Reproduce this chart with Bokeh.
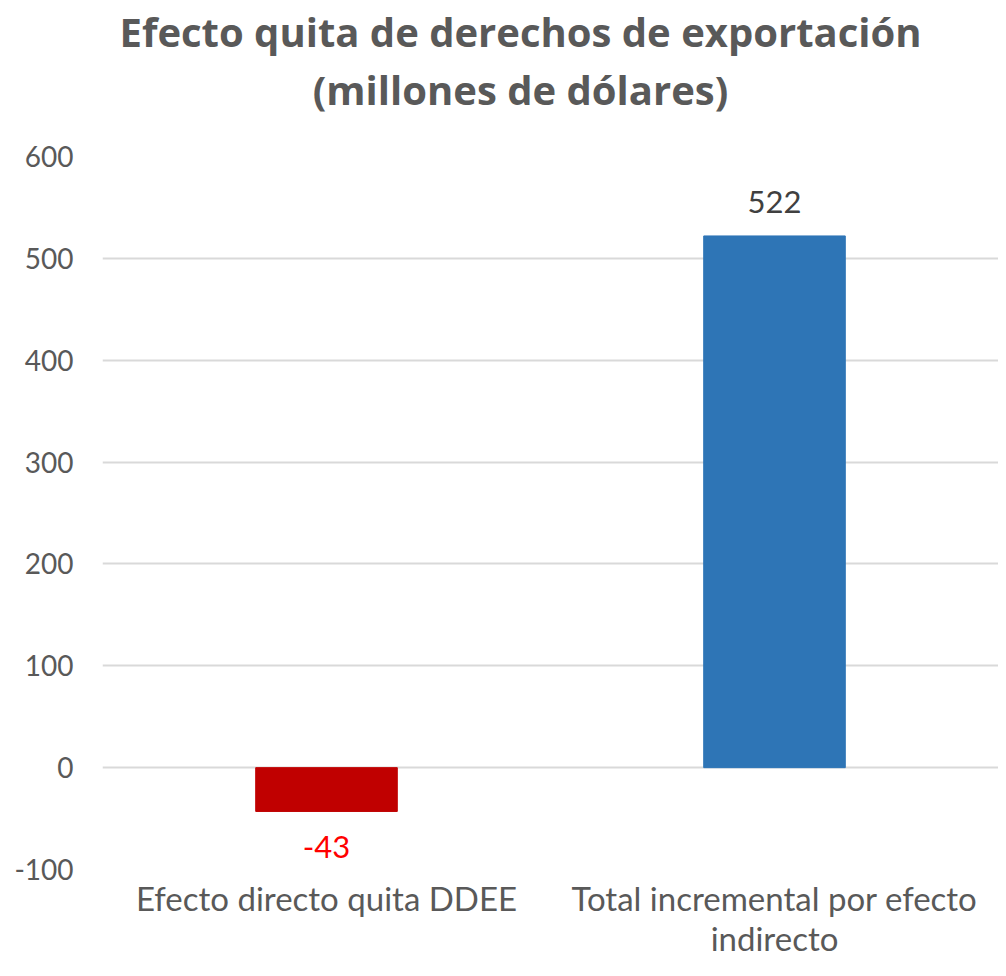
from bokeh.plotting import figure
from bokeh.layouts import column
from bokeh.models import ColumnDataSource, Range1d, FixedTicker, FactorRange
from bokeh.core.properties import value
from bokeh.embed import file_html
from bokeh.resources import INLINE

categories = ["Efecto directo quita DDEE", "Total incremental por efecto\nindirecto"]
values = [-43, 522]
bar_colors = ["#c00000", "#2e75b6"]
label_colors = ["#ff0000", "#404040"]
y_ticks = [-100, 0, 100, 200, 300, 400, 500, 600]
title_lines = ["Efecto quita de derechos de exportación", "(millones de dólares)"]

FONT = "Lato"
TFONT = "Open Sans"
W = 998
TH = 140
LEFT = 102

# title strip (its frame is aligned with the main plot's frame by the column layout)
t = figure(width=W, height=TH, x_range=Range1d(LEFT, W), y_range=Range1d(0, TH),
           x_axis_location=None, y_axis_location=None,
           min_border=0, output_backend="svg", toolbar_location=None)
t.grid.grid_line_color = None
t.outline_line_color = None
t.text(x=[520, 520], y=[TH - 31, TH - 89], text=title_lines, text_font=value(TFONT),
       text_font_size="40px", text_font_style="bold", text_color="#595959",
       text_align="center", text_baseline="middle")

p = figure(
    width=W, height=960 - TH,
    x_range=FactorRange(*categories, range_padding=0),
    y_range=Range1d(-100, 600),
    output_backend="svg", toolbar_location=None,
    min_border_left=LEFT, min_border_right=0, min_border_bottom=90, min_border_top=16,
)

src = ColumnDataSource(dict(x=categories, top=values, color=bar_colors))
p.vbar(x="x", top="top", bottom=0, width=0.316, color="color", source=src)

pos = [i for i, v in enumerate(values) if v >= 0]
neg = [i for i, v in enumerate(values) if v < 0]
src_pos = ColumnDataSource(dict(x=[categories[i] for i in pos], y=[values[i] for i in pos],
                                label=[str(values[i]) for i in pos], c=[label_colors[i] for i in pos]))
src_neg = ColumnDataSource(dict(x=[categories[i] for i in neg], y=[values[i] for i in neg],
                                label=[str(values[i]) for i in neg], c=[label_colors[i] for i in neg]))
p.text(x="x", y="y", text="label", source=src_pos, text_color="c", text_font=value(FONT),
       text_font_size="31px", text_align="center", text_baseline="middle", y_offset=-34)
p.text(x="x", y="y", text="label", source=src_neg, text_color="c", text_font=value(FONT),
       text_font_size="31px", text_align="center", text_baseline="middle", y_offset=36)

p.outline_line_color = None
p.background_fill_color = "white"
p.border_fill_color = "white"

p.xgrid.grid_line_color = None
p.ygrid.grid_line_color = "#d9d9d9"
p.ygrid.grid_line_width = 2
p.yaxis.ticker = FixedTicker(ticks=y_ticks)
p.yaxis.major_label_overrides = {t_: str(t_) for t_ in y_ticks}
p.yaxis.axis_line_color = None
p.yaxis.major_tick_line_color = None
p.yaxis.minor_tick_line_color = None
p.yaxis.major_label_standoff = 23
p.yaxis.major_label_text_font = FONT
p.yaxis.major_label_text_font_size = "28px"
p.yaxis.major_label_text_color = "#595959"

p.xaxis.axis_line_color = None
p.xaxis.major_tick_line_color = None
p.xaxis.minor_tick_line_color = None
p.xaxis.major_label_standoff = 2
p.xaxis.major_label_text_line_height = 1.0
p.xaxis.major_label_text_font = FONT
p.xaxis.major_label_text_font_size = "33px"
p.xaxis.major_label_text_color = "#595959"

layout = column(t, p, spacing=0)
open("out.html", "w").write(file_html(layout, INLINE))
